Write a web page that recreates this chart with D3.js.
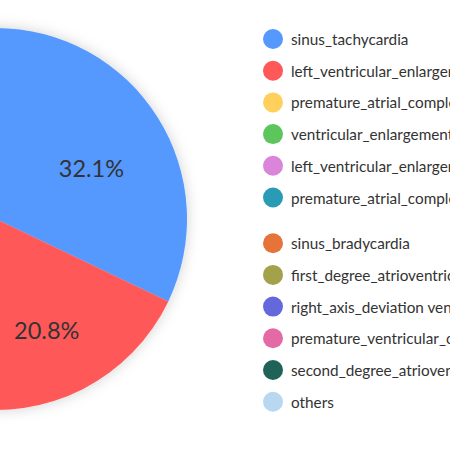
<!DOCTYPE html>
<html>
<head>
<meta charset="utf-8">
<script src="https://cdn.jsdelivr.net/npm/d3@7"></script>
<style>
  html, body { margin: 0; padding: 0; background: #fff; overflow: hidden; }
  svg { display: block; }
</style>
</head>
<body>
<svg id="chart" width="450" height="450"></svg>
<script>
const categories = [
  "sinus_tachycardia",
  "left_ventricular_enlargement",
  "premature_atrial_complex",
  "ventricular_enlargement",
  "left_ventricular_enlargement sinus_tachycardia",
  "premature_atrial_complex sinus_tachycardia",
  "sinus_bradycardia",
  "first_degree_atrioventricular_block",
  "right_axis_deviation ventricular_enlargement",
  "premature_ventricular_complex",
  "second_degree_atrioventricular_block",
  "others"
];
const values = [32.1, 20.8, 10.5, 7.6, 6.2, 5.1, 4.3, 3.6, 3.0, 2.5, 1.8, 2.5];
const colors = [
  "#5599ff", "#ff5858", "#ffd05c", "#5cc55c", "#da85da", "#2a9bb5",
  "#e5733a", "#a3a24a", "#6468db", "#e46aa5", "#1f6358", "#b8d8f2"
];

const data = categories.map((c, i) => ({ name: c, value: values[i] }));
const svg = d3.select("#chart");

const defs = svg.append("defs");
const f = defs.append("filter").attr("id", "shadow")
  .attr("x", "-20%").attr("y", "-20%").attr("width", "140%").attr("height", "140%");
f.append("feDropShadow").attr("dx", 0).attr("dy", 0)
  .attr("stdDeviation", 7).attr("flood-color", "#000").attr("flood-opacity", 0.18);

const cx = -4, cy = 219, R = 191, labelR = 114;
const color = d3.scaleOrdinal().domain(categories).range(colors);
const pie = d3.pie().value(d => d.value).sort(null);
const arcs = pie(data);
const arc = d3.arc().innerRadius(0).outerRadius(R);
const labelArc = d3.arc().innerRadius(labelR).outerRadius(labelR);

const g = svg.append("g").attr("transform", `translate(${cx},${cy})`);
g.append("g").attr("filter", "url(#shadow)")
  .selectAll("path").data(arcs).join("path")
  .attr("d", arc)
  .attr("fill", d => color(d.data.name));

const total = d3.sum(values);
g.selectAll("text.lbl").data(arcs.filter(d => d.data.value / total > 0.15)).join("text")
  .attr("class", "lbl")
  .attr("x", d => labelArc.centroid(d)[0] - 1)
  .attr("y", d => labelArc.centroid(d)[1] + 9.5)
  .attr("text-anchor", "middle")
  .attr("dominant-baseline", "central")
  .attr("font-family", "Lato, 'Open Sans', sans-serif")
  .attr("font-size", 23.5)
  .attr("fill", "#333")
  .text(d => (d.data.value / total * 100).toFixed(1) + "%");

const legend = svg.append("g").attr("transform", "translate(273,0)");
const items = legend.selectAll("g").data(categories).join("g")
  .attr("transform", (d, i) => `translate(0,${39 + i * 31.7 + (i >= 6 ? 14 : 0)})`);
items.append("circle").attr("r", 10).attr("fill", d => color(d));
items.append("text")
  .attr("x", 18)
  .attr("dominant-baseline", "central")
  .attr("font-family", "Lato, 'Open Sans', sans-serif")
  .attr("font-size", 15.3)
  .attr("fill", "#333")
  .text(d => d);
</script>
</body>
</html>
